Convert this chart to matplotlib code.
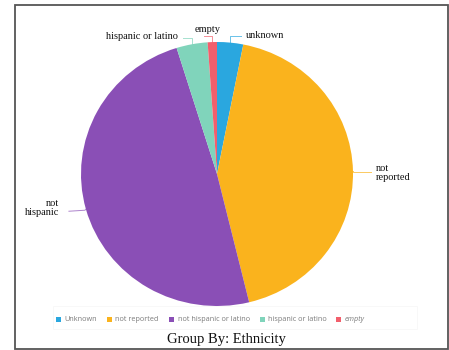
import numpy as np
import matplotlib
matplotlib.use("Agg")
import matplotlib.pyplot as plt
from matplotlib.lines import Line2D
from matplotlib.patches import Rectangle

# Ethnicity breakdown (percent of records)
legend_labels = ["Unknown", "not reported", "not hispanic or latino", "hispanic or latino", "empty"]
slice_labels = ["unknown", "not\nreported", "not\nhispanic", "hispanic or latino", "empty"]
shares = [3.1, 43.1, 49.0, 3.7, 1.1]
colors = ["#2aa7df", "#fab31d", "#8a4fb6", "#80d4bb", "#f25f6c"]

W, H = 449, 350
fig = plt.figure(figsize=(W / 100, H / 100), dpi=100)
fig.patch.set_facecolor("white")


def fx(x):
    return x / W


def fy(y):
    return 1 - y / H


# outer frame
fig.add_artist(Rectangle((fx(14.5), fy(348.5)), fx(447.5) - fx(14.5), fy(5) - fy(348.5),
                         transform=fig.transFigure, fill=False, edgecolor="#555555", lw=1.3))
# faint legend panel
fig.add_artist(Rectangle((fx(53), fy(329)), fx(417) - fx(53), fy(306) - fy(329),
                         transform=fig.transFigure, fill=False, edgecolor="#f6f6f6", lw=0.5))

ax = fig.add_axes([fx(81), fy(306), fx(353) - fx(81), fy(42) - fy(306)])
wedges, _ = ax.pie(shares, colors=colors, startangle=90, counterclock=False, radius=1,
                   wedgeprops=dict(linewidth=0))
ax.set_aspect("auto")
ax.set_xlim(-1, 1)
ax.set_ylim(-1, 1)
ax.axis("off")

# leader paths (pixel offsets from slice edge) and label anchor offsets
leaders = [
    dict(path=[(0, 0), (0, -6.5), (11, -6.5)], text=(16, -7), ha="left"),
    dict(path=[(0, 0), (0, 0.5), (18, 0.5)], text=(23, 1.5), ha="left"),
    dict(path=[(0, 0), (-1, 1), (-17, 2)], text=(-27, -1), ha="right"),
    dict(path=[(0, 0), (0, -6), (-9, -6)], text=(-14, -7.5), ha="right"),
    dict(path=[(0, 0), (0, -6), (-8, -6)], text=(-5, -13), ha="center"),
]

total = float(sum(shares))
cum = 0.0
for share, lab, col, ld in zip(shares, slice_labels, colors, leaders):
    mid = (cum + share / 2) / total * 360.0
    cum += share
    theta = np.deg2rad(90 - mid)
    px, py = ax.transData.transform((np.cos(theta), np.sin(theta)))
    ex, ey = px, H - py
    xs = [fx(ex + dx) for dx, dy in ld["path"]]
    ys = [fy(ey + dy) for dx, dy in ld["path"]]
    fig.add_artist(Line2D(xs, ys, transform=fig.transFigure, color=col, lw=0.7, alpha=0.7))
    tx, ty = ld["text"]
    fig.text(fx(ex + tx), fy(ey + ty), lab, ha=ld["ha"], va="center", multialignment=ld["ha"],
             fontsize=7.5, family="Liberation Serif", color="#111111", linespacing=1.0)

# legend row
leg_x = [55.5, 106.5, 168.5, 259.5, 335.5]
leg_y = 319.5
for x, lab, col in zip(leg_x, legend_labels, colors):
    fig.add_artist(Rectangle((fx(x), fy(leg_y + 2.5)), 5 / W, 5 / H,
                             transform=fig.transFigure, facecolor=col, edgecolor="none"))
    fig.text(fx(x + 9), fy(leg_y), lab, ha="left", va="center", fontsize=5.2,
             family="Open Sans", color="#7a7a7a",
             style="italic" if lab == "empty" else "normal")

fig.text(fx(226), fy(339.5), "Group By: Ethnicity", ha="center", va="center",
         fontsize=10.5, family="Liberation Serif", color="#111111")

fig.savefig("out.png", dpi=100)
